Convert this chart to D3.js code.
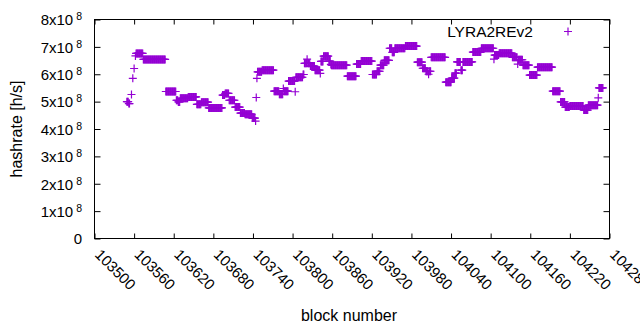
<!DOCTYPE html>
<html>
<head>
<meta charset="utf-8">
<script src="https://cdn.jsdelivr.net/npm/d3@7"></script>
<style>
  body { margin: 0; background: #fff; }
  text { font-family: "Liberation Sans", Arial, sans-serif; fill: #000; }
</style>
</head>
<body>
<div id="chart"></div>
<script>
// data: runs of consecutive blocks sharing one hashrate value (h/s)
var runStart = [103549, 103552, 103556, 103558, 103560, 103562, 103563, 103574, 103608, 103624,
                103627, 103630, 103642, 103655, 103662, 103673, 103694, 103698, 103704, 103713,
                103721, 103728, 103739, 103744, 103745, 103746, 103747, 103754, 103772, 103780,
                103786, 103787, 103794, 103804, 103805, 103816, 103818, 103822, 103823, 103827,
                103834, 103842, 103843, 103847, 103855, 103858, 103859, 103883, 103897, 103904,
                103921, 103928, 103933, 103939, 103947, 103951, 103955, 103971, 103989, 103997,
                104002, 104006, 104007, 104010, 104032, 104041, 104046, 104049, 104055, 104058,
                104073, 104086, 104105, 104106, 104113, 104133, 104141, 104142, 104149, 104159,
                104171, 104194, 104206, 104213, 104220, 104241, 104248, 104263, 104264];
var runEnd   = [103551, 103553, 103556, 103558, 103560, 103562, 103573, 103607, 103623, 103626,
                103629, 103641, 103654, 103661, 103672, 103693, 103697, 103703, 103712, 103720,
                103727, 103738, 103743, 103744, 103745, 103746, 103753, 103771, 103779, 103785,
                103786, 103793, 103803, 103804, 103815, 103817, 103821, 103822, 103826, 103833,
                103841, 103842, 103846, 103854, 103857, 103858, 103882, 103896, 103903, 103920,
                103927, 103932, 103938, 103946, 103950, 103954, 103970, 103988, 103996, 104001,
                104005, 104006, 104009, 104031, 104040, 104045, 104048, 104054, 104057, 104072,
                104085, 104104, 104105, 104112, 104132, 104140, 104141, 104148, 104158, 104170,
                104193, 104205, 104212, 104219, 104240, 104247, 104262, 104263, 104270];
var runHash  = [5.00e8, 4.93e8, 5.26e8, 5.85e8, 6.21e8, 6.67e8, 6.76e8, 6.54e8, 5.37e8, 5.05e8,
                4.99e8, 5.12e8, 5.17e8, 4.90e8, 4.98e8, 4.77e8, 5.24e8, 5.30e8, 5.05e8, 4.80e8,
                4.58e8, 4.54e8, 4.40e8, 4.29e8, 5.15e8, 5.85e8, 6.09e8, 6.15e8, 5.38e8, 5.27e8,
                5.48e8, 5.38e8, 5.75e8, 5.36e8, 5.89e8, 5.99e8, 6.40e8, 6.55e8, 6.40e8, 6.30e8,
                6.15e8, 6.03e8, 6.47e8, 6.66e8, 6.48e8, 6.36e8, 6.33e8, 5.93e8, 6.37e8, 6.48e8,
                5.99e8, 6.11e8, 6.33e8, 6.51e8, 6.95e8, 6.80e8, 6.95e8, 7.03e8, 6.44e8, 6.22e8,
                6.11e8, 6.00e8, 6.11e8, 6.62e8, 5.71e8, 5.86e8, 6.04e8, 6.45e8, 6.15e8, 6.45e8,
                6.81e8, 6.95e8, 6.55e8, 6.70e8, 6.77e8, 6.62e8, 6.37e8, 6.53e8, 6.33e8, 5.97e8,
                6.26e8, 5.38e8, 4.99e8, 4.80e8, 4.84e8, 4.69e8, 4.87e8, 5.14e8, 5.50e8];

var xTicks = [103500, 103560, 103620, 103680, 103740, 103800, 103860, 103920,
              103980, 104040, 104100, 104160, 104220, 104280];
var yTicks = [0, 1e8, 2e8, 3e8, 4e8, 5e8, 6e8, 7e8, 8e8];
var seriesName = "LYRA2REv2";

// one point per block
var points = [];
runStart.forEach(function (s, i) {
  for (var b = s; b <= runEnd[i]; b++) points.push({ block: b, hash: runHash[i] });
});

var svgWidth = 640, svgHeight = 330;
var margin = { top: 19.5, right: 30.5, bottom: 91.5, left: 94.5 };
var chartWidth = svgWidth - margin.left - margin.right;
var chartHeight = svgHeight - margin.top - margin.bottom;
var color = "#9400d3";

var svg = d3.select("#chart").append("svg")
            .attr("width", svgWidth)
            .attr("height", svgHeight);

var chartGroup = svg.append("g")
                    .attr("transform", `translate(${margin.left}, ${margin.top})`);

var xScale = d3.scaleLinear().domain([103500, 104280]).range([0, chartWidth]);
var yScale = d3.scaleLinear().domain([0, 8e8]).range([chartHeight, 0]);

// axes, ticks pointing inward and mirrored
var xAxis = chartGroup.append("g")
    .attr("transform", `translate(0, ${chartHeight})`)
    .call(d3.axisBottom(xScale).tickValues(xTicks).tickSizeInner(-5).tickSizeOuter(0));
chartGroup.append("g")
    .call(d3.axisTop(xScale).tickValues(xTicks).tickSizeInner(-5).tickSizeOuter(0).tickFormat(""));
var yAxis = chartGroup.append("g")
    .call(d3.axisLeft(yScale).tickValues(yTicks).tickSizeInner(-6).tickSizeOuter(0));
chartGroup.append("g")
    .attr("transform", `translate(${chartWidth}, 0)`)
    .call(d3.axisRight(yScale).tickValues(yTicks).tickSizeInner(-6).tickSizeOuter(0).tickFormat(""));

chartGroup.selectAll(".domain").remove();
chartGroup.selectAll(".tick line").attr("stroke", "#000");

xAxis.selectAll("text")
     .attr("x", 0).attr("y", 0).attr("dy", 0)
     .attr("text-anchor", "start")
     .attr("transform", "translate(-1, 17) rotate(45)")
     .style("font-size", "15px")
     .text(d => d3.format("d")(d));

yAxis.selectAll("text").each(function (d) {
  var t = d3.select(this).text("")
            .attr("x", -12.5).attr("dy", "0.35em")
            .attr("text-anchor", "end")
            .style("font-size", "15px");
  if (d === 0) { t.text("0"); return; }
  t.append("tspan").text((d / 1e8) + "x10");
  t.append("tspan").attr("dx", 3).attr("dy", -5).style("font-size", "10.5px").text("8");
});

chartGroup.append("rect")
    .attr("width", chartWidth).attr("height", chartHeight)
    .attr("fill", "none").attr("stroke", "#000").attr("stroke-width", 1);

// data points
var plus = "M-4,0H4M0,-4V4";
chartGroup.selectAll(".pt")
    .data(points)
    .enter()
    .append("path")
    .classed("pt", true)
    .attr("d", plus)
    .attr("transform", d => `translate(${xScale(d.block)}, ${yScale(d.hash)})`)
    .attr("fill", "none").attr("stroke", color).attr("stroke-width", 1.2);

// labels
svg.append("text")
   .attr("transform", "translate(21.5, 129) rotate(-90)")
   .attr("text-anchor", "middle")
   .style("font-size", "16px")
   .text("hashrate [h/s]");

svg.append("text")
   .attr("x", 349).attr("y", 321)
   .attr("text-anchor", "middle")
   .style("font-size", "16px")
   .text("block number");

// legend
svg.append("text")
   .attr("x", 533).attr("y", 36.5)
   .attr("text-anchor", "end")
   .style("font-size", "15.5px")
   .text(seriesName);
svg.append("path")
   .attr("d", plus)
   .attr("transform", "translate(568, 31.5)")
   .attr("fill", "none").attr("stroke", color).attr("stroke-width", 1.2);
</script>
</body>
</html>
